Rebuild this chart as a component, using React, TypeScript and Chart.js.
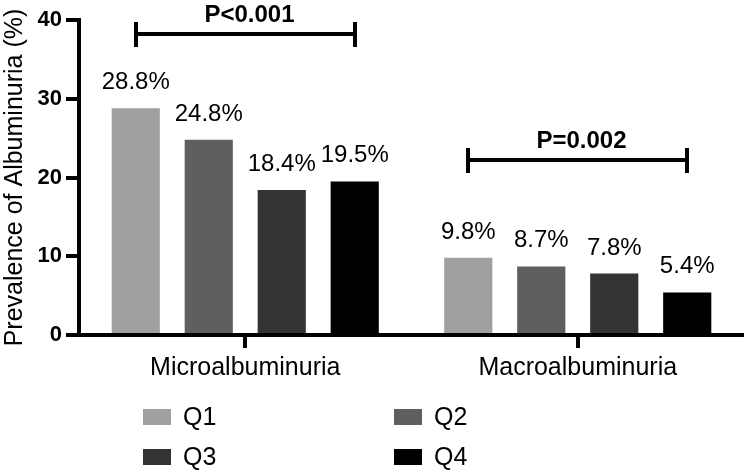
import React, { useEffect, useRef } from 'react';
import { Chart, registerables } from 'chart.js';

Chart.register(...registerables);

const categories = ['Microalbuminuria', 'Macroalbuminuria'];
const seriesNames = ['Q1', 'Q2', 'Q3', 'Q4'];
const q1Values = [28.8, 9.8];
const q2Values = [24.8, 8.7];
const q3Values = [18.4, 7.8];
const q4Values = [19.5, 5.4];
const seriesColors = ['#a0a0a0', '#5f5f5f', '#333333', '#000000'];
const yTicks = [0, 10, 20, 30, 40];
const bracketLevels = [38.2, 22.2];
const bracketLabels = ['P<0.001', 'P=0.002'];
const yTitle = 'Prevalence of Albuminuria (%)';

const FONT = '"Liberation Sans", Arial, Helvetica, sans-serif';

const overlayPlugin = {
  id: 'overlay',
  afterRender(chart: any) {
    const ctx = chart.ctx;
    const area = chart.chartArea;
    const left = Math.round(area.left);
    const right = Math.round(area.right);
    const bottom = Math.round(area.bottom);
    const yScale = chart.scales.y;
    const first = chart.getDatasetMeta(0);
    const last = chart.getDatasetMeta(chart.data.datasets.length - 1);
    const topY = Math.round(yScale.getPixelForValue(yTicks[yTicks.length - 1]));
    const W = 4;

    ctx.save();
    ctx.fillStyle = '#000';

    // axes (filled rectangles, 4px thick)
    ctx.fillRect(left - W / 2, topY - W / 2, W, bottom - topY + W);
    ctx.fillRect(left - W / 2, bottom - W / 2, right - left + W / 2, W);
    yTicks.forEach((v) => {
      const y = Math.round(yScale.getPixelForValue(v));
      ctx.fillRect(left - 13, y - W / 2, 13, W);
    });
    categories.forEach((_, j) => {
      const cx = Math.round((first.data[j].x + last.data[j].x) / 2);
      ctx.fillRect(cx - W / 2, bottom, W, 13);
    });

    // value labels
    ctx.font = `24px ${FONT}`;
    ctx.textAlign = 'center';
    ctx.textBaseline = 'alphabetic';
    chart.data.datasets.forEach((ds: any, i: number) => {
      const meta = chart.getDatasetMeta(i);
      meta.data.forEach((bar: any, j: number) => {
        ctx.fillText(`${Number(ds.data[j]).toFixed(1)}%`, bar.x, bar.y - 19);
      });
    });

    // significance brackets
    bracketLevels.forEach((level, j) => {
      const x1 = Math.round(first.data[j].x);
      const x2 = Math.round(last.data[j].x);
      const y = Math.round(yScale.getPixelForValue(level));
      ctx.fillRect(x1 - W / 2, y - W / 2, x2 - x1 + W, W);
      ctx.fillRect(x1 - W / 2, y - 12, W, 25);
      ctx.fillRect(x2 - W / 2, y - 12, W, 25);
      ctx.font = `bold 24px ${FONT}`;
      ctx.textAlign = 'center';
      ctx.fillText(bracketLabels[j], (x1 + x2) / 2 + 4, y - 12);
    });

    // legend in a 2 x 2 grid
    const lLeft = 143;
    const lTop = 409;
    const colGap = 251;
    const rowGap = 40;
    ctx.font = `25px ${FONT}`;
    ctx.textAlign = 'left';
    ctx.textBaseline = 'middle';
    chart.data.datasets.forEach((ds: any, i: number) => {
      const x = lLeft + (i % 2) * colGap;
      const y = lTop + Math.floor(i / 2) * rowGap;
      ctx.fillStyle = ds.backgroundColor;
      ctx.fillRect(x, y, 28, 16);
      ctx.fillStyle = '#000';
      ctx.fillText(ds.label, x + 40, y + 9);
    });
    ctx.restore();
  },
};

export default function App() {
  const canvasRef = useRef<HTMLCanvasElement | null>(null);

  useEffect(() => {
    document.body.style.margin = '0';
    const canvas = canvasRef.current;
    if (!canvas) return;
    const seriesValues = [q1Values, q2Values, q3Values, q4Values];
    const chart = new Chart(canvas, {
      type: 'bar',
      data: {
        labels: categories,
        datasets: seriesNames.map((name, i) => ({
          label: name,
          data: seriesValues[i],
          backgroundColor: seriesColors[i],
          borderWidth: 0,
          categoryPercentage: 0.878,
          barPercentage: 0.66,
        })),
      },
      options: {
        responsive: false,
        animation: false,
        devicePixelRatio: 1,
        layout: { padding: { top: 20, bottom: 80, left: 0, right: 0 } },
        plugins: {
          legend: { display: false },
          tooltip: { enabled: false },
        },
        scales: {
          x: {
            offset: true,
            afterFit: (s: any) => {
              s.height = 56;
            },
            border: { display: false },
            grid: {
              offset: false,
              display: true,
              drawOnChartArea: false,
              drawTicks: true,
              tickLength: 13,
              tickColor: 'rgba(0,0,0,0)',
              color: 'rgba(0,0,0,0)',
            },
            ticks: {
              font: { family: FONT, size: 25 },
              color: '#000',
              padding: 5,
              maxRotation: 0,
              autoSkip: false,
            },
          },
          y: {
            min: 0,
            max: 40,
            afterBuildTicks: (s: any) => {
              s.ticks = yTicks.map((v) => ({ value: v }));
            },
            afterFit: (s: any) => {
              s.width = 79;
            },
            border: { display: false },
            grid: {
              display: true,
              drawOnChartArea: false,
              drawTicks: true,
              tickLength: 13,
              tickColor: 'rgba(0,0,0,0)',
              color: 'rgba(0,0,0,0)',
            },
            ticks: {
              font: { family: FONT, size: 22, weight: 'bold' },
              color: '#000',
              padding: 4,
            },
            title: {
              display: true,
              text: yTitle,
              font: { family: FONT, size: 25 },
              color: '#000',
              padding: { top: 0, bottom: 0 },
            },
          },
        },
      },
      plugins: [overlayPlugin],
    } as any);
    return () => {
      chart.destroy();
    };
  }, []);

  return (
    <div style={{ width: 744, height: 471, position: 'relative', background: '#fff' }}>
      <canvas ref={canvasRef} width={744} height={471} />
    </div>
  );
}
